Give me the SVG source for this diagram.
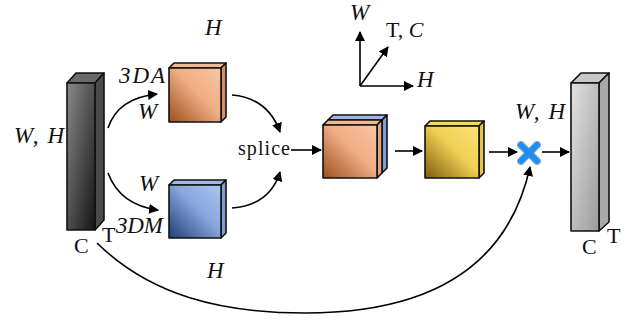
<svg xmlns="http://www.w3.org/2000/svg" width="636" height="324" viewBox="0 0 636 324">
<defs>
<linearGradient id="gDark" x1="0" y1="0" x2="1" y2="1"><stop offset="0" stop-color="#8a8a8a"/><stop offset="1" stop-color="#141414"/></linearGradient>
<linearGradient id="gLight" x1="0" y1="0" x2="1" y2="1"><stop offset="0" stop-color="#e2e2e2"/><stop offset="1" stop-color="#9a9a9a"/></linearGradient>
<linearGradient id="gOr" x1="0" y1="1" x2="1" y2="0"><stop offset="0" stop-color="#9c4f1e"/><stop offset="0.55" stop-color="#f0ae85"/><stop offset="1" stop-color="#f7c6a3"/></linearGradient>
<linearGradient id="gBl" x1="0" y1="1" x2="1" y2="0"><stop offset="0" stop-color="#213d73"/><stop offset="0.55" stop-color="#86a5dc"/><stop offset="1" stop-color="#adc6f0"/></linearGradient>
<linearGradient id="gYe" x1="0" y1="1" x2="1" y2="0"><stop offset="0" stop-color="#7d5d0a"/><stop offset="0.55" stop-color="#f2cf55"/><stop offset="1" stop-color="#fbe27a"/></linearGradient>
<marker id="ah" viewBox="0 0 10 10" refX="9" refY="5" markerWidth="10" markerHeight="10" markerUnits="userSpaceOnUse" orient="auto"><path d="M0,0 L10,5 L0,10 z" fill="#000"/></marker>
</defs>
<style>
.e{stroke:#111;stroke-width:1.6;stroke-linejoin:round}
.c{fill:none;stroke:#000;stroke-width:1.6}
.i{font-family:"Liberation Serif",serif;font-style:italic;font-size:23px;fill:#111}
.r{font-family:"Liberation Serif",serif;font-size:22px;fill:#111}
</style>
<rect width="636" height="324" fill="#fff"/>

<g id="left-bar">
<polygon class="e" points="67,83 76,73 104,73 95,83" fill="#6a6a6a"/>
<polygon class="e" points="95,83 104,73 104,220 95,230" fill="#4a4a4a"/>
<rect class="e" x="67" y="83" width="28" height="147" fill="url(#gDark)"/>
<text class="i" x="14" y="143" textLength="50">W, H</text>
<text class="r" x="74" y="253">C</text>
<text class="r" x="102" y="242">T</text>
</g>

<g id="cube-3DA">
<polygon class="e" points="169,68 174,63 226,63 221,68" fill="#f2b890"/>
<polygon class="e" points="221,68 226,63 226,117 221,122" fill="#d98f63"/>
<rect class="e" x="169" y="68" width="52" height="54" fill="url(#gOr)"/>
<text class="i" x="119" y="83" textLength="46">3DA</text>
<text class="i" x="138" y="119">W</text>
<text class="i" x="205" y="35">H</text>
</g>

<g id="cube-3DM">
<polygon class="e" points="169,185 174,180 226,180 221,185" fill="#9db8e6"/>
<polygon class="e" points="221,185 226,180 226,233 221,238" fill="#7f9fd6"/>
<rect class="e" x="169" y="185" width="52" height="53" fill="url(#gBl)"/>
<text class="i" x="139" y="191">W</text>
<text class="i" x="116" y="233" textLength="47">3DM</text>
<text class="i" x="207" y="278">H</text>
</g>

<g id="splice">
<text class="r" x="238" y="155" textLength="52" style="font-size:20px">splice</text>
</g>

<g id="axes">
<line class="c" x1="360" y1="86" x2="360" y2="32" marker-end="url(#ah)"/>
<line class="c" x1="360" y1="86" x2="413" y2="86" marker-end="url(#ah)"/>
<line class="c" x1="360" y1="86" x2="388" y2="47" marker-end="url(#ah)"/>
<text class="i" x="350" y="20">W</text>
<text x="386" y="37" style="font-family:'Liberation Serif',serif;font-size:22px;fill:#111">T,<tspan style="font-style:italic"> C</tspan></text>
<text class="i" x="417" y="87">H</text>
</g>

<g id="cube-concat">
<polygon class="e" points="328,120 333,115 387,115 382,120" fill="#9db8e6"/>
<polygon class="e" points="382,120 387,115 387,168 382,173" fill="#7f9fd6"/>
<polygon class="e" points="323,125 328,120 382,120 377,125" fill="#f2b890"/>
<polygon class="e" points="377,125 382,120 382,173 377,178" fill="#e2a57c"/>
<rect class="e" x="323" y="125" width="54" height="53" fill="url(#gOr)"/>
</g>

<g id="cube-yellow">
<polygon class="e" points="425,126 430,121 484,121 479,126" fill="#f7d866"/>
<polygon class="e" points="479,126 484,121 484,173 479,178" fill="#e9c44a"/>
<rect class="e" x="425" y="126" width="54" height="52" fill="url(#gYe)"/>
</g>

<g id="multiply">
<g stroke="#5a7da0" stroke-width="8" stroke-linecap="round" opacity="0.6">
<line x1="521" y1="145" x2="537" y2="161"/><line x1="537" y1="145" x2="521" y2="161"/>
</g>
<g stroke="#1e8ff0" stroke-width="6" stroke-linecap="round">
<line x1="521" y1="145" x2="537" y2="161"/><line x1="537" y1="145" x2="521" y2="161"/>
</g>
<text class="i" x="515" y="119" textLength="50">W, H</text>
</g>

<g id="right-bar">
<polygon class="e" points="571,83 581,73 609,73 599,83" fill="#c8c8c8"/>
<polygon class="e" points="599,83 609,73 609,222 599,231" fill="#a9a9a9"/>
<rect class="e" x="571" y="83" width="28" height="148" fill="url(#gLight)"/>
<text class="r" x="582" y="254">C</text>
<text class="r" x="607" y="243">T</text>
</g>

<g id="connectors">
<path class="c" d="M108,128 Q118,98 157,94" marker-end="url(#ah)"/>
<path class="c" d="M108,173 Q120,205 158,210" marker-end="url(#ah)"/>
<path class="c" d="M232,95 Q268,98 280,132" marker-end="url(#ah)"/>
<path class="c" d="M232,208 Q270,205 280,172" marker-end="url(#ah)"/>
<line class="c" x1="291" y1="150" x2="321" y2="150" marker-end="url(#ah)"/>
<line class="c" x1="395" y1="151" x2="422" y2="151" marker-end="url(#ah)"/>
<line class="c" x1="489" y1="152" x2="517" y2="152" marker-end="url(#ah)"/>
<line class="c" x1="542" y1="152" x2="569" y2="152" marker-end="url(#ah)"/>
<path class="c" d="M97,243 C150,295 220,313 305,313 C410,313 505,280 530,167" marker-end="url(#ah)"/>
</g>
</svg>
